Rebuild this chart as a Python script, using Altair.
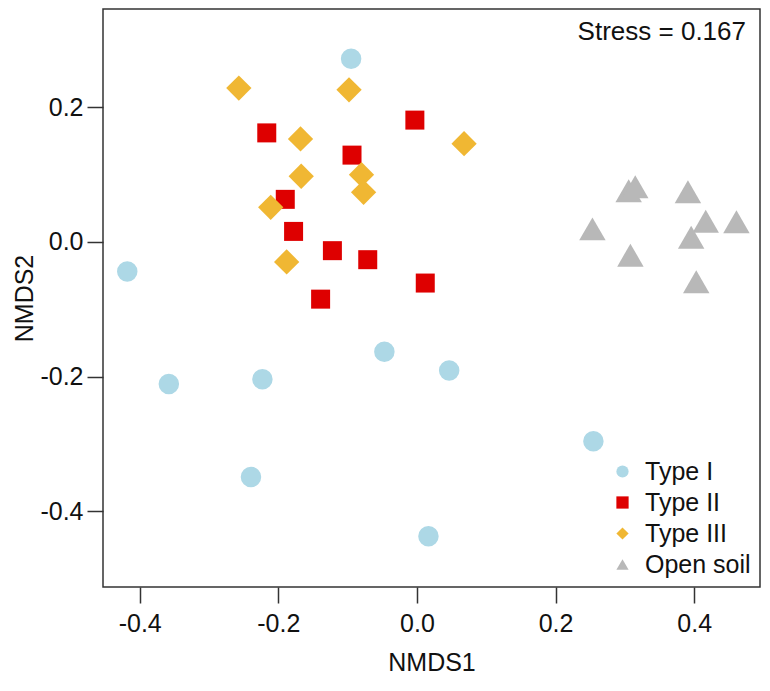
import altair as alt
import pandas as pd

groups = ["Type I", "Type II", "Type III", "Open soil"]
colors = ["#add8e6", "#de0000", "#f0b733", "#b8b8b8"]
shapes = ["circle", "square", "diamond", "triangle-up"]

type1_x = [-0.095, -0.418, -0.358, -0.223, -0.047, -0.2395, 0.0465, 0.2546, 0.0166]
type1_y = [0.272, -0.044, -0.211, -0.204, -0.163, -0.349, -0.191, -0.296, -0.437]

type2_x = [-0.2167, -0.0937, -0.190, -0.178, -0.122, -0.071, -0.139, -0.003, 0.012]
type2_y = [0.162, 0.129, 0.0633, 0.0157, -0.0129, -0.0263, -0.0849, 0.181, -0.061]

type3_x = [-0.257, -0.098, -0.168, -0.167, -0.080, -0.077, -0.211, -0.188, 0.068]
type3_y = [0.2285, 0.226, 0.153, 0.0976, 0.100, 0.0737, 0.0514, -0.0296, 0.146]

soil_x = [0.2532, 0.3055, 0.315, 0.391, 0.4167, 0.461, 0.3957, 0.308, 0.403]
soil_y = [0.0194, 0.0761, 0.0819, 0.0747, 0.0309, 0.030, 0.0071, -0.0196, -0.0591]

x_ticks = [-0.4, -0.2, 0.0, 0.2, 0.4]
y_ticks = [-0.4, -0.2, 0.0, 0.2]
stress_label = "Stress = 0.167"

rows = []
for g, xs, ys in zip(groups, [type1_x, type2_x, type3_x, soil_x],
                     [type1_y, type2_y, type3_y, soil_y]):
    for a, b in zip(xs, ys):
        rows.append({"NMDS1": a, "NMDS2": b, "group": g})
df = pd.DataFrame(rows)

W, H = 657, 578
FONT = "Liberation Sans"
label_expr = "(datum.value < 0 ? '-' : '') + format(abs(datum.value), '.1f')"
size_expr = ("datum.group === 'Type I' ? 420 : datum.group === 'Type II' ? 361 : "
             "datum.group === 'Type III' ? 640 : 700")

points = alt.Chart(df).transform_window(
    idx="row_number()"
).transform_calculate(
    sz=size_expr
).mark_point(filled=True, opacity=1).encode(
    x=alt.X("NMDS1:Q", scale=alt.Scale(domain=[-0.453, 0.495], nice=False, zero=False),
            axis=alt.Axis(values=x_ticks, labelExpr=label_expr, title="NMDS1",
                          labelPadding=8, titlePadding=14)),
    y=alt.Y("NMDS2:Q", scale=alt.Scale(domain=[-0.5124, 0.346], nice=False, zero=False),
            axis=alt.Axis(values=y_ticks, labelExpr=label_expr, title="NMDS2",
                          labelPadding=4, titlePadding=2)),
    color=alt.Color("group:N", scale=alt.Scale(domain=groups, range=colors),
                    legend=alt.Legend(title=None, orient="bottom-right")),
    shape=alt.Shape("group:N", scale=alt.Scale(domain=groups, range=shapes),
                    legend=alt.Legend(title=None, orient="bottom-right")),
    size=alt.Size("sz:Q", scale=None, legend=None),
    order=alt.Order("idx:Q"),
)

stress = alt.Chart(pd.DataFrame({"t": [stress_label]})).mark_text(
    align="right", baseline="alphabetic", fontSize=26, font=FONT, color="#111"
).encode(x=alt.value(W - 14), y=alt.value(31), text="t:N")

chart = alt.layer(points, stress).properties(
    width=W, height=H,
    autosize=alt.AutoSizeParams(type="none"),
    padding={"left": 95, "top": 1, "right": 2, "bottom": 90},
).configure_view(
    stroke="#333", strokeWidth=1.5
).configure_axis(
    domain=False, grid=False, tickSize=16, tickWidth=1.5, tickColor="#333",
    labelFont=FONT, labelFontSize=25, labelColor="#111",
    titleFont=FONT, titleFontSize=25, titleFontWeight="normal", titleColor="#111",
).configure_axisY(
    labelAngle=0
).configure_legend(
    labelFont=FONT, labelFontSize=25, labelColor="#111", symbolSize=150,
    symbolStrokeWidth=0, labelOffset=10, rowPadding=5, offset=9, padding=0
)

chart.save("out.html", embed_options={"renderer": "svg", "actions": False})
